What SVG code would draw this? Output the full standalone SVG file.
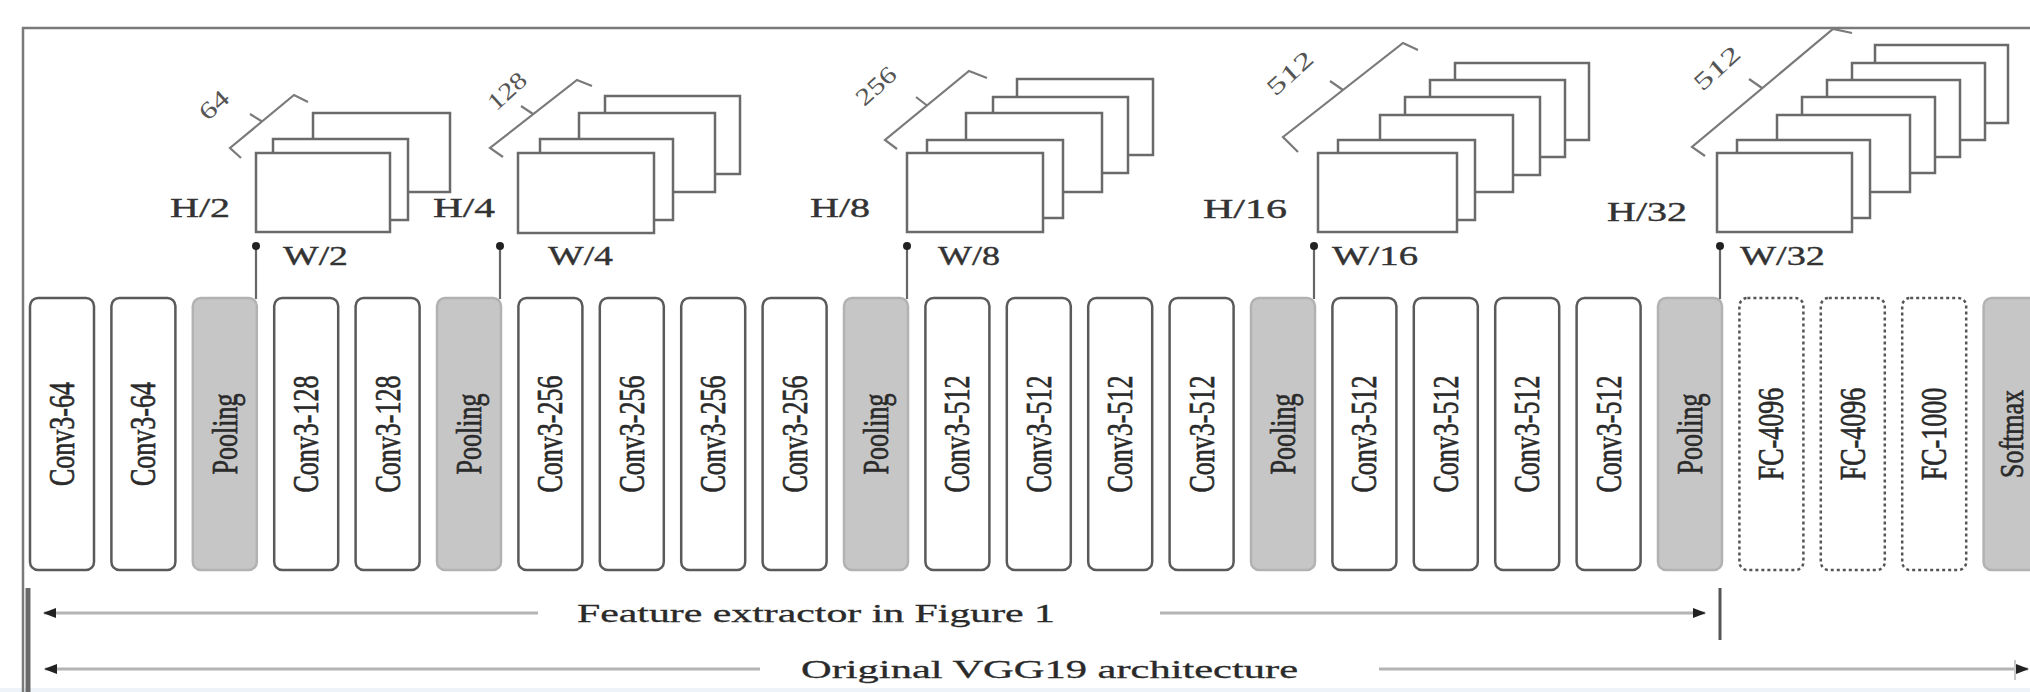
<svg xmlns="http://www.w3.org/2000/svg" width="2030" height="692" viewBox="0 0 2030 692">
<defs>
<style>
.frame{stroke:#7a7a7a;stroke-width:2.5;fill:none}
.conv{fill:#ffffff;stroke:#5a5a5a;stroke-width:2.5}
.pool{fill:#c6c6c6;stroke:#b2b2b2;stroke-width:2.5}
.fc{fill:#ffffff;stroke:#555555;stroke-width:2.5;stroke-dasharray:3 3}
.lbl{font-family:"Liberation Serif","Times New Roman",serif;font-size:26px;fill:#2a2a2a;stroke:#2a2a2a;stroke-width:0.5;text-anchor:middle;dominant-baseline:central}
.fm{fill:#ffffff;stroke:#6a6a6a;stroke-width:2.5}
.br{fill:none;stroke:#7a7a7a;stroke-width:2.2}
.dim{font-family:"Liberation Serif","Times New Roman",serif;font-size:28px;fill:#333333;stroke:#333333;stroke-width:0.4}
.num{font-family:"Liberation Serif","Times New Roman",serif;font-size:24px;fill:#555555;text-anchor:middle;dominant-baseline:central}
.cap{font-family:"Liberation Serif","Times New Roman",serif;font-size:26px;fill:#2a2a2a;stroke:#2a2a2a;stroke-width:0.3}
.vline{stroke:#666666;stroke-width:2.2}
.span{stroke:#b4b4b4;stroke-width:3;fill:none}
</style>
<marker id="ah" markerUnits="userSpaceOnUse" markerWidth="14" markerHeight="10" refX="12" refY="5" orient="auto-start-reverse">
<path d="M0,0 L13,5 L0,10 z" fill="#222"/>
</marker>
</defs>
<rect x="0" y="0" width="2030" height="692" fill="#ffffff"/>
<rect x="0" y="688" width="2030" height="4" fill="#edf3f9"/>

<g id="frame">
<line class="frame" x1="22" y1="28" x2="2030" y2="28"/>
<line class="frame" x1="23" y1="27" x2="23" y2="692"/>
<line stroke="#6a6a6a" stroke-width="5" x1="28" y1="588" x2="28" y2="692"/>
</g>

<g id="stack1">
<rect class="fm" x="313" y="113" width="137" height="79"/>
<rect class="fm" x="273" y="139" width="135" height="81"/>
<rect class="fm" x="256" y="153" width="134" height="79"/>
<path class="br" d="M241,158 L230,148 L294,95 L308,102 M262,121.5 L250,114"/>
<text class="num" transform="translate(214,105) rotate(-42)" textLength="32" lengthAdjust="spacingAndGlyphs">64</text>
<text class="dim" x="170" y="217" textLength="60" lengthAdjust="spacingAndGlyphs">H/2</text>
<text class="dim" x="283" y="265" textLength="65" lengthAdjust="spacingAndGlyphs">W/2</text>
</g>

<g id="stack2">
<rect class="fm" x="605" y="96" width="135" height="78"/>
<rect class="fm" x="579" y="113" width="136" height="79"/>
<rect class="fm" x="540" y="139" width="133" height="81"/>
<rect class="fm" x="518" y="153" width="136" height="80"/>
<path class="br" d="M503,157 L490,148 L577,80 L592,86 M533,114 L521,106"/>
<text class="num" transform="translate(507,91) rotate(-42)" textLength="44" lengthAdjust="spacingAndGlyphs">128</text>
<text class="dim" x="433" y="217" textLength="62" lengthAdjust="spacingAndGlyphs">H/4</text>
<text class="dim" x="548" y="265" textLength="65" lengthAdjust="spacingAndGlyphs">W/4</text>
</g>

<g id="stack3">
<rect class="fm" x="1017" y="79" width="136" height="76"/>
<rect class="fm" x="993" y="97" width="135" height="76"/>
<rect class="fm" x="966" y="113" width="136" height="79"/>
<rect class="fm" x="927" y="140" width="136" height="78"/>
<rect class="fm" x="907" y="153" width="136" height="79"/>
<path class="br" d="M897,149 L885,140 L969,71 L987,78 M927,105.5 L916,97"/>
<text class="num" transform="translate(876,86) rotate(-42)" textLength="46" lengthAdjust="spacingAndGlyphs">256</text>
<text class="dim" x="810" y="217" textLength="60" lengthAdjust="spacingAndGlyphs">H/8</text>
<text class="dim" x="938" y="265" textLength="62" lengthAdjust="spacingAndGlyphs">W/8</text>
</g>

<g id="stack4">
<rect class="fm" x="1455" y="63" width="134" height="77"/>
<rect class="fm" x="1430" y="80" width="135" height="77"/>
<rect class="fm" x="1405" y="97" width="135" height="78"/>
<rect class="fm" x="1380" y="115" width="133" height="77"/>
<rect class="fm" x="1338" y="140" width="137" height="80"/>
<rect class="fm" x="1318" y="153" width="139" height="79"/>
<path class="br" d="M1298,152 L1283,137 L1403,43 L1418,50 M1343,90 L1330,81"/>
<text class="num" transform="translate(1290,73) rotate(-42)" textLength="54" lengthAdjust="spacingAndGlyphs">512</text>
<text class="dim" x="1203" y="218" textLength="84" lengthAdjust="spacingAndGlyphs">H/16</text>
<text class="dim" x="1332" y="265" textLength="86" lengthAdjust="spacingAndGlyphs">W/16</text>
</g>

<g id="stack5">
<rect class="fm" x="1875" y="45" width="133" height="78"/>
<rect class="fm" x="1852" y="63" width="133" height="77"/>
<rect class="fm" x="1827" y="80" width="133" height="77"/>
<rect class="fm" x="1802" y="97" width="133" height="76"/>
<rect class="fm" x="1777" y="115" width="133" height="77"/>
<rect class="fm" x="1737" y="140" width="133" height="78"/>
<rect class="fm" x="1717" y="153" width="135" height="79"/>
<path class="br" d="M1705,156 L1692,147 L1833,29 L1852,33 M1762,88 L1749,79"/>
<text class="num" transform="translate(1717,68) rotate(-42)" textLength="54" lengthAdjust="spacingAndGlyphs">512</text>
<text class="dim" x="1607" y="221" textLength="80" lengthAdjust="spacingAndGlyphs">H/32</text>
<text class="dim" x="1740" y="265" textLength="85" lengthAdjust="spacingAndGlyphs">W/32</text>
</g>

<g id="b1"><rect class="conv" x="30" y="298" width="64" height="272" rx="8"/><text class="lbl" transform="translate(62,434) scale(1.35,1) rotate(-90)">Conv3-64</text></g>
<g id="b2"><rect class="conv" x="111.4" y="298" width="64" height="272" rx="8"/><text class="lbl" transform="translate(143.4,434) scale(1.35,1) rotate(-90)">Conv3-64</text></g>
<g id="b3"><rect class="pool" x="192.8" y="298" width="64" height="272" rx="8"/><text class="lbl" transform="translate(224.8,434) scale(1.35,1) rotate(-90)">Pooling</text></g>
<g id="b4"><rect class="conv" x="274.2" y="298" width="64" height="272" rx="8"/><text class="lbl" transform="translate(306.2,434) scale(1.35,1) rotate(-90)">Conv3-128</text></g>
<g id="b5"><rect class="conv" x="355.6" y="298" width="64" height="272" rx="8"/><text class="lbl" transform="translate(387.6,434) scale(1.35,1) rotate(-90)">Conv3-128</text></g>
<g id="b6"><rect class="pool" x="437" y="298" width="64" height="272" rx="8"/><text class="lbl" transform="translate(469,434) scale(1.35,1) rotate(-90)">Pooling</text></g>
<g id="b7"><rect class="conv" x="518.4" y="298" width="64" height="272" rx="8"/><text class="lbl" transform="translate(550.4,434) scale(1.35,1) rotate(-90)">Conv3-256</text></g>
<g id="b8"><rect class="conv" x="599.8" y="298" width="64" height="272" rx="8"/><text class="lbl" transform="translate(631.8,434) scale(1.35,1) rotate(-90)">Conv3-256</text></g>
<g id="b9"><rect class="conv" x="681.2" y="298" width="64" height="272" rx="8"/><text class="lbl" transform="translate(713.2,434) scale(1.35,1) rotate(-90)">Conv3-256</text></g>
<g id="b10"><rect class="conv" x="762.6" y="298" width="64" height="272" rx="8"/><text class="lbl" transform="translate(794.6,434) scale(1.35,1) rotate(-90)">Conv3-256</text></g>
<g id="b11"><rect class="pool" x="844" y="298" width="64" height="272" rx="8"/><text class="lbl" transform="translate(876,434) scale(1.35,1) rotate(-90)">Pooling</text></g>
<g id="b12"><rect class="conv" x="925.4" y="298" width="64" height="272" rx="8"/><text class="lbl" transform="translate(957.4,434) scale(1.35,1) rotate(-90)">Conv3-512</text></g>
<g id="b13"><rect class="conv" x="1006.8" y="298" width="64" height="272" rx="8"/><text class="lbl" transform="translate(1038.8,434) scale(1.35,1) rotate(-90)">Conv3-512</text></g>
<g id="b14"><rect class="conv" x="1088.2" y="298" width="64" height="272" rx="8"/><text class="lbl" transform="translate(1120.2,434) scale(1.35,1) rotate(-90)">Conv3-512</text></g>
<g id="b15"><rect class="conv" x="1169.6" y="298" width="64" height="272" rx="8"/><text class="lbl" transform="translate(1201.6,434) scale(1.35,1) rotate(-90)">Conv3-512</text></g>
<g id="b16"><rect class="pool" x="1251" y="298" width="64" height="272" rx="8"/><text class="lbl" transform="translate(1283,434) scale(1.35,1) rotate(-90)">Pooling</text></g>
<g id="b17"><rect class="conv" x="1332.4" y="298" width="64" height="272" rx="8"/><text class="lbl" transform="translate(1364.4,434) scale(1.35,1) rotate(-90)">Conv3-512</text></g>
<g id="b18"><rect class="conv" x="1413.8" y="298" width="64" height="272" rx="8"/><text class="lbl" transform="translate(1445.8,434) scale(1.35,1) rotate(-90)">Conv3-512</text></g>
<g id="b19"><rect class="conv" x="1495.2" y="298" width="64" height="272" rx="8"/><text class="lbl" transform="translate(1527.2,434) scale(1.35,1) rotate(-90)">Conv3-512</text></g>
<g id="b20"><rect class="conv" x="1576.6" y="298" width="64" height="272" rx="8"/><text class="lbl" transform="translate(1608.6,434) scale(1.35,1) rotate(-90)">Conv3-512</text></g>
<g id="b21"><rect class="pool" x="1658" y="298" width="64" height="272" rx="8"/><text class="lbl" transform="translate(1690,434) scale(1.35,1) rotate(-90)">Pooling</text></g>
<g id="b22"><rect class="fc" x="1739.4" y="298" width="64" height="272" rx="8"/><text class="lbl" transform="translate(1771.4,434) scale(1.35,1) rotate(-90)">FC-4096</text></g>
<g id="b23"><rect class="fc" x="1820.8" y="298" width="64" height="272" rx="8"/><text class="lbl" transform="translate(1852.8,434) scale(1.35,1) rotate(-90)">FC-4096</text></g>
<g id="b24"><rect class="fc" x="1902.2" y="298" width="64" height="272" rx="8"/><text class="lbl" transform="translate(1934.2,434) scale(1.35,1) rotate(-90)">FC-1000</text></g>
<g id="b25"><rect class="pool" x="1983.6" y="298" width="64" height="272" rx="8"/><text class="lbl" transform="translate(2012,434) scale(1.3,1) rotate(-90)">Softmax</text></g>

<g id="connectors">
<line class="vline" x1="256" y1="246" x2="256" y2="299"/>
<circle cx="256" cy="246" r="4" fill="#222"/>
<line class="vline" x1="500" y1="246" x2="500" y2="299"/>
<circle cx="500" cy="246" r="4" fill="#222"/>
<line class="vline" x1="907" y1="246" x2="907" y2="299"/>
<circle cx="907" cy="246" r="4" fill="#222"/>
<line class="vline" x1="1314" y1="246" x2="1314" y2="299"/>
<circle cx="1314" cy="246" r="4" fill="#222"/>
<line class="vline" x1="1720" y1="246" x2="1720" y2="299"/>
<circle cx="1720" cy="246" r="4" fill="#222"/>

<line class="span" x1="44" y1="613" x2="538" y2="613" marker-start="url(#ah)"/>
<line class="span" x1="1160" y1="613" x2="1705" y2="613" marker-end="url(#ah)"/>
<line stroke="#555" stroke-width="3" x1="1720" y1="588" x2="1720" y2="640"/>
<line class="span" x1="45" y1="669" x2="760" y2="669" marker-start="url(#ah)"/>
<line class="span" x1="1379" y1="669" x2="2028" y2="669" marker-end="url(#ah)"/>
<line stroke="#c8c8c8" stroke-width="2" x1="2015" y1="660" x2="2015" y2="680"/>
</g>

<g id="captions">
<text class="cap" x="577" y="622" textLength="478" lengthAdjust="spacingAndGlyphs">Feature extractor in Figure 1</text>
<text class="cap" x="801" y="678" textLength="497" lengthAdjust="spacingAndGlyphs">Original VGG19 architecture</text>
</g>
</svg>
